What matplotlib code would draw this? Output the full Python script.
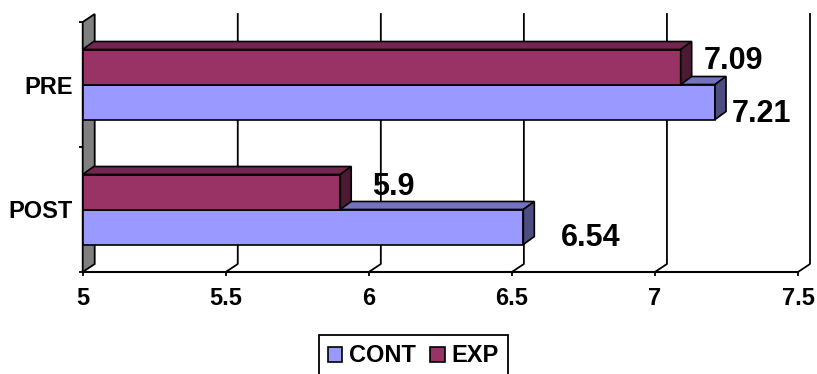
import matplotlib
matplotlib.use('Agg')
import matplotlib.pyplot as plt
from matplotlib.patches import Polygon, Patch

plt.rcParams['font.family'] = ['Liberation Sans', 'DejaVu Sans']
plt.rcParams['font.weight'] = 'bold'

categories = ['POST', 'PRE']
series_names = ['CONT', 'EXP']
cont_values = [6.54, 7.21]
exp_values = [5.9, 7.09]
x_ticks = [5, 5.5, 6, 6.5, 7, 7.5]

# where each value label sits, pixels from the bar end / bar centre (up is +)
cont_label_off = [(38, -11), (17, -11.5)]
exp_label_off = [(32, 5.3), (23, 5.7)]

cont_col = ('#9999FF', '#7373BF', '#4D4D80')   # front, top, side
exp_col = ('#993366', '#732650', '#4D1A33')

W, H = 817, 374
fig = plt.figure(figsize=(W / 100, H / 100), dpi=100)
left_px, right_px, floor_px, top_px = 82.7, 798, 272, 22
ax = fig.add_axes([left_px / W, 1 - floor_px / H,
                   (right_px - left_px) / W, (floor_px - top_px) / H])
ax.set_xlim(5, 7.5)
ax.set_ylim(-0.5, 1.5)

# 3d depth in pixels -> data units
sx = (right_px - left_px) / 2.5
sy = (floor_px - top_px) / 2.0
dX, dY = 12 / sx, 8 / sy
bX, bY = 11 / sx, 8 / sy

# back wall gridlines + floor diagonals
for x in x_ticks[1:]:
    ax.plot([x, x + dX, x + dX], [-0.5, -0.5 + dY, 1.5 + dY],
            color='k', lw=1.3, clip_on=False, zorder=1)

# grey side wall
wall = Polygon([(5, -0.5), (5 + dX, -0.5 + dY), (5 + dX, 1.5 + dY), (5, 1.5)],
               closed=True, fc='#808080', ec='k', lw=1.3, clip_on=False, zorder=1.5)
ax.add_patch(wall)

h = 0.28
ypos = list(range(len(categories)))


def bars3d(vals, yc, cols, z, offs):
    ax.barh(yc, [v - 5 for v in vals], left=5, height=h, color=cols[0],
            edgecolor='k', linewidth=1.2, zorder=z, clip_on=False)
    for v, y, off in zip(vals, yc, offs):
        top, bot = y + h / 2, y - h / 2
        ax.add_patch(Polygon([(5, top), (v, top), (v + bX, top + bY), (5 + bX, top + bY)],
                             closed=True, fc=cols[1], ec='k', lw=1.2, zorder=z, clip_on=False))
        ax.add_patch(Polygon([(v, bot), (v + bX, bot + bY), (v + bX, top + bY), (v, top)],
                             closed=True, fc=cols[2], ec='k', lw=1.2, zorder=z, clip_on=False))
        ax.annotate(f'{v:g}', xy=(v, y), xytext=off, textcoords='offset pixels',
                    ha='left', va='center', fontsize=22, fontweight='bold',
                    zorder=6, annotation_clip=False)


bars3d(cont_values, [y - h / 2 for y in ypos], cont_col, 3, cont_label_off)
bars3d(exp_values, [y + h / 2 for y in ypos], exp_col, 4, exp_label_off)

for s in ['top', 'right', 'left']:
    ax.spines[s].set_visible(False)
ax.spines['bottom'].set_linewidth(1.5)
ax.spines['bottom'].set_zorder(2)

ax.set_xticks(x_ticks)
ax.set_xticklabels([f'{t:g}' for t in x_ticks], fontsize=17, fontweight='bold')
ax.tick_params(axis='x', direction='out', length=3, width=1.3, pad=7.5)
ax.set_yticks(ypos)
ax.set_yticklabels(categories, fontsize=17, fontweight='bold')
ax.tick_params(axis='y', length=0, pad=7)
ax.set_yticks([-0.5, 0.5, 1.5], minor=True)
ax.tick_params(axis='y', which='minor', length=3, width=1.3)
ax.set_facecolor('none')

handles = [Patch(fc=cont_col[0], ec='k', lw=1.2), Patch(fc=exp_col[0], ec='k', lw=1.2)]
leg = fig.legend(handles, series_names, loc='upper center',
                 bbox_to_anchor=(413.5 / W, 1 - 335 / H), ncol=2, frameon=True,
                 fancybox=False, edgecolor='k', framealpha=1,
                 prop={'weight': 'bold', 'size': 17},
                 handlelength=0.6, handleheight=0.6, handletextpad=0.3,
                 columnspacing=0.6, borderpad=0.4, borderaxespad=0)
leg.get_frame().set_linewidth(1.3)

fig.savefig('out.png', dpi=100)
